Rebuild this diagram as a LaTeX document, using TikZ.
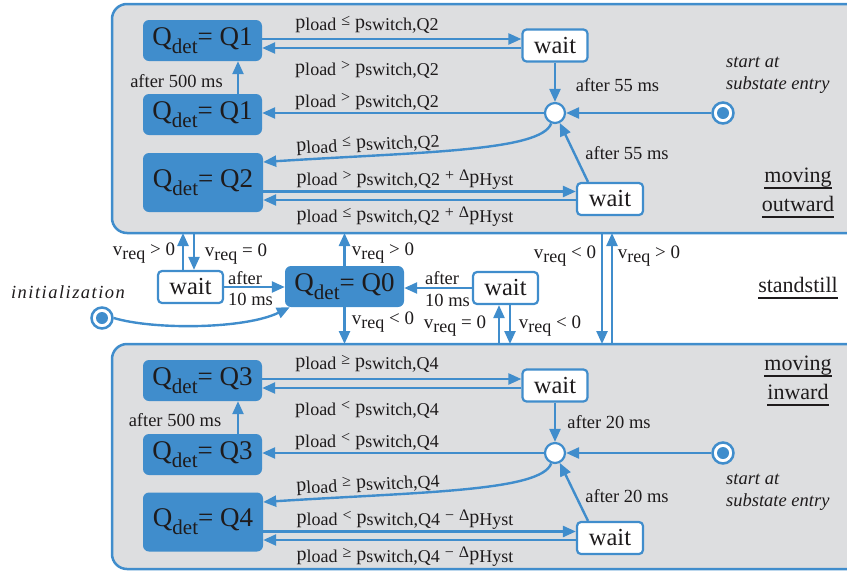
\documentclass[tikz,border=0pt]{standalone}
\usepackage{fontspec}
\setmainfont{Liberation Serif}
\usetikzlibrary{arrows.meta}

\definecolor{stateblue}{RGB}{64,141,204}
\definecolor{panelgray}{RGB}{221,222,224}
\definecolor{ink}{RGB}{30,27,28}

\newcommand\fsz[1]{\fontsize{#1}{#1}\selectfont}
\newcommand\subt[1]{\raisebox{-2.5pt}{\fsz{18}#1}}
\newcommand\relsym[1]{\raisebox{2.5pt}{\fsz{16}#1}}
\newcommand\pLoad{p\subt{load}}
\newcommand\pSw[1]{p\subt{switch,#1}}
\newcommand\dHyst{\relsym{Δ}p\subt{Hyst}}
\newcommand\vReq{v\raisebox{-4.5pt}{\fsz{18}req}}
\newcommand\Qdet[1]{Q\raisebox{-8pt}{\fsz{21}det}= #1}
\newcommand\ulbar[1]{\setbox0\hbox{#1}\rlap{\rule[-6.5pt]{\wd0}{1.8pt}}\box0}

\begin{document}
\begin{tikzpicture}[x=1pt,y=-1pt,
  qstate/.style={fill=stateblue, rounded corners=6pt, minimum width=119pt, minimum height=41pt,
    inner sep=0pt, text=ink, font=\fsz{27}},
  waitbox/.style={draw=stateblue, line width=2.2pt, fill=white, rounded corners=4pt,
    minimum width=65pt, minimum height=32pt, inner sep=0pt, text=ink, font=\fsz{24.5}},
  junction/.style={circle, draw=stateblue, line width=2.2pt, fill=white, minimum size=20pt, inner sep=0pt},
  startdot/.style={circle, draw=stateblue, line width=2.5pt, fill=white, minimum size=21pt, inner sep=0pt,
    path picture={\fill[stateblue] (path picture bounding box.center) circle[radius=6pt];}},
  panel/.style={draw=stateblue, line width=2.5pt, fill=panelgray, rounded corners=15pt,
    inner sep=0pt, outer sep=0pt, anchor=north west},
  conn/.style={draw=stateblue, line width=2.4pt, -{Triangle[length=13pt,width=11pt]}},
  cond/.style={text=ink, inner sep=0pt, font=\fsz{20}},
  timer/.style={text=ink, inner sep=0pt, font=\fsz{18.5}},
  note/.style={text=ink, inner sep=0pt, align=left, anchor=west, font=\fontsize{18.5}{22}\selectfont\itshape},
  region/.style={text=ink, inner sep=0pt, align=center, font=\fontsize{22}{29}\selectfont},
]
\useasboundingbox (0,0) rectangle (847,571);
\clip (0,0) rectangle (847,571);

% substate panels
\node[panel, minimum width=790pt, minimum height=229pt] (outw) at (112,4) {};
\node[panel, minimum width=790pt, minimum height=225pt] (inw) at (112,344) {};

% ---------- moving outward ----------
\node[qstate] (q1) at (202.5,40.5) {\Qdet{Q1}};
\node[qstate] (q1b) at (202.5,114.5) {\Qdet{Q1}};
\node[qstate, minimum width=120pt, minimum height=59pt] (q2) at (203,182.5) {\Qdet{Q2}};
\node[waitbox] (w1) at (555,45.5) {wait};
\node[junction] (j1) at (555,113) {};
\node[startdot] (s1) at (723,113) {};
\node[waitbox, minimum width=66pt] (w2) at (610,199) {wait};

\draw[conn] ([yshift=1.5pt]q1.east) -- ([yshift=1.5pt]q1.east -| w1.west);
\draw[conn] ([yshift=-7.5pt]q1.east -| w1.west) -- ([yshift=-7.5pt]q1.east);
\draw[conn] (w1.south) -- (j1.north);
\draw[conn] (s1.west) -- (j1.east);
\draw[conn] (j1.west) -- (j1.west -| q1b.east);
\draw[conn] ([xshift=35.5pt]q1b.north) -- ([xshift=35.5pt]q1b.north |- q1.south);
\draw[conn] (j1.-110) .. controls +(-10,28) and +(157,-10) .. ([yshift=20.5pt]q2.east);
\draw[conn] ([yshift=-9pt]q2.east) -- ([yshift=-9pt]q2.east -| w2.west);
\draw[conn] ([yshift=-17.5pt]q2.east -| w2.west) -- ([yshift=-17.5pt]q2.east);
\draw[conn] ([xshift=-22pt]w2.north) -- (j1);

\node[cond] (c1) at (367,25) {\pLoad{} \relsym{≤} \pSw{Q2}};
\node[cond] (c2) at (367,70) {\pLoad{} \relsym{>} \pSw{Q2}};
\node[cond] (c3) at (367,102) {\pLoad{} \relsym{>} \pSw{Q2}};
\node[cond, rotate=3] (c4) at (368,145) {\pLoad{} \relsym{≤} \pSw{Q2}};
\node[cond] (c5) at (405,180) {\pLoad{} \relsym{>} \pSw{Q2} \relsym{+} \dHyst};
\node[cond] (c6) at (405,217) {\pLoad{} \relsym{≤} \pSw{Q2} \relsym{+} \dHyst};
\node[timer] (t1) at (176.5,81) {after 500 ms};
\node[timer] (t2) at (617.5,85) {after 55 ms};
\node[timer] (t3) at (627,153) {after 55 ms};
\node[note] (n1) at (726,75) {start at\\substate entry};
\node[region] (r1) at (798,192.5) {\ulbar{moving}\\\ulbar{outward}};

% ---------- standstill ----------
\node[qstate] (q0) at (344.5,286.5) {\Qdet{Q0}};
\node[waitbox] (wl) at (190.5,287) {wait};
\node[waitbox] (wr) at (505.5,288) {wait};
\node[startdot] (init) at (102,318) {};

\draw[conn] (wl.east) -- (wl.east -| q0.west);
\draw[conn] (wr.west) -- (wr.west -| q0.east);
\draw[conn] ([xshift=-7.5pt]wl.north) -- ([xshift=-7.5pt]wl.north |- outw.south);
\draw[conn] ([xshift=3.5pt]wl.north |- outw.south) -- ([xshift=3.5pt]wl.north);
\draw[conn] (q0.north) -- (q0.north |- outw.south);
\draw[conn] (q0.south) -- (q0.south |- inw.north);
\draw[conn] ([xshift=-6.5pt]wr.south |- inw.north) -- ([xshift=-6.5pt]wr.south);
\draw[conn] ([xshift=4.5pt]wr.south) -- ([xshift=4.5pt]wr.south |- inw.north);
\draw[conn] ([xshift=95pt]outw.south) -- ([xshift=95pt]outw.south |- inw.north);
\draw[conn] ([xshift=105pt]outw.south |- inw.north) -- ([xshift=105pt]outw.south);
\draw[conn] (init.east) .. controls +(40,12) and +(-45,22) .. ([xshift=5pt]q0.south west);

\node[timer, font=\fsz{19}] (v1) at (144,253) {\vReq{} > 0};
\node[timer, font=\fsz{19}] (v2) at (236,254) {\vReq{} = 0};
\node[timer, font=\fsz{19}] (v3) at (383,253) {\vReq{} > 0};
\node[timer, font=\fsz{19}] (v4) at (383,322) {\vReq{} < 0};
\node[timer, font=\fsz{19}] (v5) at (455,326) {\vReq{} = 0};
\node[timer, font=\fsz{19}] (v6) at (550,326) {\vReq{} < 0};
\node[timer, font=\fsz{19}] (v7) at (565,256) {\vReq{} < 0};
\node[timer, font=\fsz{19}] (v8) at (649,256) {\vReq{} > 0};
\node[timer, align=left, anchor=west, font=\fontsize{18.5}{21}\selectfont] (t4) at (228,288.5) {after\\10 ms};
\node[timer, align=left, anchor=west, font=\fontsize{18.5}{22}\selectfont] (t5) at (425,289) {after\\10 ms};
\node[timer, font=\fsz{18.5}\itshape\addfontfeature{LetterSpace=8}] (n0) at (68,292) {initialization};
\node[region] (r0) at (798,288) {\ulbar{standstill}};

% ---------- moving inward ----------
\node[qstate] (q3) at (202.5,380.5) {\Qdet{Q3}};
\node[qstate] (q3b) at (202.5,454.5) {\Qdet{Q3}};
\node[qstate, minimum width=120pt, minimum height=59pt] (q4) at (203,522) {\Qdet{Q4}};
\node[waitbox] (w3) at (555,385.5) {wait};
\node[junction] (j2) at (555,453) {};
\node[startdot] (s2) at (723,453) {};
\node[waitbox, minimum width=66pt] (w4) at (610,538) {wait};

\draw[conn] ([yshift=1.5pt]q3.east) -- ([yshift=1.5pt]q3.east -| w3.west);
\draw[conn] ([yshift=-7.5pt]q3.east -| w3.west) -- ([yshift=-7.5pt]q3.east);
\draw[conn] (w3.south) -- (j2.north);
\draw[conn] (s2.west) -- (j2.east);
\draw[conn] (j2.west) -- (j2.west -| q3b.east);
\draw[conn] ([xshift=35.5pt]q3b.north) -- ([xshift=35.5pt]q3b.north |- q3.south);
\draw[conn] (j2.-110) .. controls +(-10,28) and +(157,-10) .. ([yshift=20pt]q4.east);
\draw[conn] ([yshift=-9.5pt]q4.east) -- ([yshift=-9.5pt]q4.east -| w4.west);
\draw[conn] ([yshift=-18pt]q4.east -| w4.west) -- ([yshift=-18pt]q4.east);
\draw[conn] ([xshift=-22pt]w4.north) -- (j2);

\node[cond] (c7) at (367,364) {\pLoad{} \relsym{≥} \pSw{Q4}};
\node[cond] (c8) at (367,410) {\pLoad{} \relsym{<} \pSw{Q4}};
\node[cond] (c9) at (367,442) {\pLoad{} \relsym{<} \pSw{Q4}};
\node[cond, rotate=3] (c10) at (368,485) {\pLoad{} \relsym{≥} \pSw{Q4}};
\node[cond] (c11) at (405,520) {\pLoad{} \relsym{<} \pSw{Q4} \relsym{−} \dHyst};
\node[cond] (c12) at (405,557) {\pLoad{} \relsym{≥} \pSw{Q4} \relsym{−} \dHyst};
\node[timer] (t6) at (175,420.5) {after 500 ms};
\node[timer] (t7) at (609,422) {after 20 ms};
\node[timer] (t8) at (627,496) {after 20 ms};
\node[note] (n2) at (726,492.5) {start at\\substate entry};
\node[region] (r2) at (798,380.5) {\ulbar{moving}\\\ulbar{inward}};
\end{tikzpicture}
\end{document}
